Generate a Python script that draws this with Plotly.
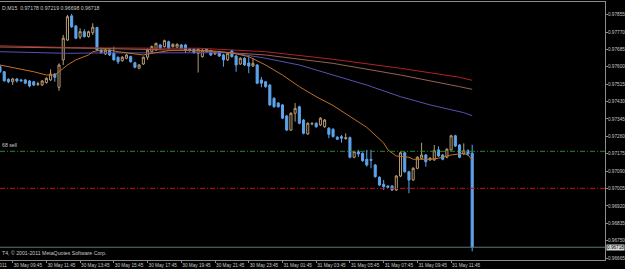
import plotly.graph_objects as go

# ---------------- data (USDCAD-like M15 bars) ----------------
bars = list(range(113))  # bar 0 = 30 May 09:00, 15-minute bars

open_ = [0.97601,0.97576,0.97539,0.97527,0.97541,0.97536,0.97536,0.97531,0.97527,0.97514,
         0.97511,0.97523,0.97536,0.97565,0.97500,0.97634,0.97731,0.97849,0.97800,0.97745,
         0.97772,0.97748,0.97767,0.97792,0.97682,0.97663,0.97682,0.97666,0.97647,0.97630,
         0.97642,0.97650,0.97620,0.97593,0.97614,0.97647,0.97674,0.97682,0.97707,0.97699,
         0.97723,0.97699,0.97696,0.97707,0.97707,0.97686,0.97686,0.97666,0.97650,0.97686,
         0.97679,0.97663,0.97674,0.97658,0.97634,0.97679,0.97653,0.97614,0.97642,0.97619,
         0.97604,0.97609,0.97536,0.97527,0.97511,0.97446,0.97423,0.97414,0.97360,0.97291,
         0.97373,0.97405,0.97340,0.97272,0.97321,0.97324,0.97316,0.97307,0.97300,0.97295,
         0.97256,0.97259,0.97249,0.97254,0.97158,0.97185,0.97177,0.97148,0.97147,0.97120,
         0.97060,0.97026,0.97017,0.97017,0.96998,0.97066,0.97180,0.97087,0.97047,0.97104,
         0.97153,0.97169,0.97145,0.97145,0.97194,0.97169,0.97158,0.97194,0.97263,0.97218,
         0.97174,0.97190,0.97178]
high = [0.97609,0.97580,0.97544,0.97546,0.97546,0.97541,0.97541,0.97536,0.97531,0.97527,
        0.97536,0.97549,0.97588,0.97569,0.97617,0.97756,0.97854,0.97859,0.97804,0.97789,
        0.97784,0.97777,0.97813,0.97796,0.97686,0.97689,0.97686,0.97699,0.97650,0.97653,
        0.97663,0.97655,0.97625,0.97614,0.97650,0.97691,0.97704,0.97718,0.97712,0.97733,
        0.97728,0.97715,0.97715,0.97712,0.97712,0.97691,0.97691,0.97691,0.97686,0.97691,
        0.97684,0.97674,0.97679,0.97663,0.97671,0.97682,0.97658,0.97647,0.97647,0.97650,
        0.97643,0.97614,0.97550,0.97531,0.97515,0.97451,0.97428,0.97418,0.97365,0.97378,
        0.97423,0.97410,0.97345,0.97329,0.97330,0.97329,0.97354,0.97345,0.97305,0.97300,
        0.97261,0.97267,0.97275,0.97259,0.97190,0.97194,0.97182,0.97194,0.97194,0.97125,
        0.97065,0.97047,0.97022,0.97022,0.97071,0.97185,0.97185,0.97092,0.97109,0.97163,
        0.97229,0.97174,0.97158,0.97218,0.97211,0.97174,0.97202,0.97268,0.97268,0.97223,
        0.97226,0.97197,0.97219]
low = [0.97569,0.97527,0.97520,0.97511,0.97523,0.97527,0.97515,0.97500,0.97506,0.97506,
       0.97506,0.97518,0.97531,0.97527,0.97483,0.97609,0.97726,0.97790,0.97735,0.97735,
       0.97743,0.97743,0.97756,0.97679,0.97664,0.97658,0.97653,0.97630,0.97614,0.97625,
       0.97637,0.97620,0.97593,0.97588,0.97609,0.97634,0.97669,0.97679,0.97686,0.97694,
       0.97686,0.97694,0.97691,0.97686,0.97667,0.97674,0.97664,0.97572,0.97645,0.97669,
       0.97653,0.97658,0.97648,0.97601,0.97629,0.97645,0.97576,0.97609,0.97604,0.97569,
       0.97599,0.97515,0.97500,0.97498,0.97409,0.97400,0.97400,0.97344,0.97286,0.97286,
       0.97332,0.97319,0.97270,0.97267,0.97314,0.97302,0.97311,0.97302,0.97251,0.97254,
       0.97242,0.97229,0.97244,0.97153,0.97153,0.97160,0.97136,0.97112,0.97104,0.97058,
       0.97017,0.96998,0.97006,0.96993,0.96993,0.97061,0.97082,0.96982,0.97042,0.97099,
       0.97148,0.97112,0.97140,0.97140,0.97159,0.97143,0.97153,0.97189,0.97208,0.97153,
       0.97169,0.97165,0.96698]
close = [0.97576,0.97532,0.97527,0.97541,0.97531,0.97532,0.97520,0.97506,0.97511,0.97517,
         0.97531,0.97544,0.97565,0.97549,0.97609,0.97740,0.97845,0.97796,0.97740,0.97772,
         0.97748,0.97772,0.97794,0.97682,0.97669,0.97682,0.97658,0.97634,0.97625,0.97647,
         0.97658,0.97625,0.97598,0.97609,0.97647,0.97682,0.97699,0.97715,0.97691,0.97728,
         0.97691,0.97710,0.97710,0.97691,0.97682,0.97679,0.97669,0.97686,0.97682,0.97674,
         0.97658,0.97669,0.97653,0.97634,0.97666,0.97650,0.97609,0.97642,0.97609,0.97604,
         0.97617,0.97520,0.97520,0.97503,0.97414,0.97405,0.97405,0.97349,0.97291,0.97373,
         0.97397,0.97324,0.97275,0.97324,0.97323,0.97307,0.97349,0.97340,0.97270,0.97259,
         0.97246,0.97251,0.97253,0.97158,0.97185,0.97174,0.97141,0.97120,0.97143,0.97063,
         0.97022,0.97014,0.97011,0.96998,0.97066,0.97180,0.97087,0.97047,0.97104,0.97158,
         0.97169,0.97136,0.97153,0.97190,0.97164,0.97148,0.97197,0.97263,0.97213,0.97158,
         0.97190,0.97174,0.96718]

# moving averages, read at selected bars
ma_red_x = [0, 17, 37, 47, 63, 79, 95, 109, 112]
ma_red_y = [0.97703, 0.97694, 0.97691, 0.97691, 0.97674, 0.97637, 0.97593, 0.97549, 0.97534]
ma_brown_x = [0, 24, 47, 63, 79, 95, 109, 112]
ma_brown_y = [0.97697, 0.97690, 0.97679, 0.97658, 0.97617, 0.97560, 0.97503, 0.97490]
ma_purple_x = [0, 8, 16, 24, 36, 47, 55, 63, 71, 79, 87, 95, 102, 110, 112]
ma_purple_y = [0.97674, 0.97669, 0.97666, 0.97668, 0.97668, 0.97670, 0.97669, 0.97642,
               0.97609, 0.97560, 0.97511, 0.97454, 0.97414, 0.97376, 0.97361]
ma_fast_x = [0, 4, 8, 11, 13, 14, 16, 18, 21, 22, 24, 26, 28, 32, 34, 36, 40, 43, 50, 55,
             59, 63, 67, 71, 75, 79, 83, 87, 91, 92, 94, 97, 98, 102, 104, 107, 110, 111, 112]
ma_fast_y = [0.97609, 0.97593, 0.97576, 0.97560, 0.97560, 0.97576, 0.97609, 0.97634, 0.97658,
             0.97674, 0.97682, 0.97682, 0.97674, 0.97663, 0.97658, 0.97666, 0.97679, 0.97682,
             0.97679, 0.97668, 0.97650, 0.97609, 0.97560, 0.97503, 0.97454, 0.97411, 0.97357,
             0.97304, 0.97228, 0.97194, 0.97164, 0.97158, 0.97148, 0.97148, 0.97153, 0.97169,
             0.97177, 0.97169, 0.97145]

sell_level = 0.97187
stop_level = 0.97006
bid_level = 0.96718

price_ticks = [0.97855, 0.97770, 0.97685, 0.97600, 0.97515, 0.97430, 0.97345, 0.97260,
               0.97175, 0.97090, 0.97005, 0.96920, 0.96835, 0.96750, 0.96665]
time_tick_bars = [3, 11, 19, 27, 35, 43, 51, 59, 67, 75, 83, 91, 99, 107]
time_tick_labels = ["30 May 09:45", "30 May 11:45", "30 May 13:45", "30 May 15:45",
                    "30 May 17:45", "30 May 19:45", "30 May 21:45", "30 May 23:45",
                    "31 May 01:45", "31 May 03:45", "31 May 05:45", "31 May 07:45",
                    "31 May 09:45", "31 May 11:45"]
header_text = "D,M15  0.97178 0.97219 0.96698 0.96718"
order_text = "68 sell"
copyright_text = "T4, \u00a9 2001-2011 MetaQuotes Software Corp."
first_date_text = "30 May 2011"

# ---------------- styling ----------------
BULL = "#b89c74"
BEAR = "#5ea4ea"
TXT = "#c8c8c8"
AX = "#8c8c8c"
FONT = "Liberation Sans"
FS = 5.2
TFS = 4.7

fig = go.Figure()
fig.add_trace(go.Candlestick(
    x=bars, open=open_, high=high, low=low, close=close,
    increasing=dict(line=dict(color=BULL, width=1), fillcolor="#000000"),
    decreasing=dict(line=dict(color=BEAR, width=1), fillcolor=BEAR),
    whiskerwidth=0, hoverinfo="skip", showlegend=False))

for xs, ys, col in [(ma_red_x, ma_red_y, "#b02228"),
                    (ma_brown_x, ma_brown_y, "#94644e"),
                    (ma_purple_x, ma_purple_y, "#5a50b4"),
                    (ma_fast_x, ma_fast_y, "#c07028")]:
    fig.add_trace(go.Scatter(x=xs, y=ys, mode="lines", line=dict(color=col, width=1),
                             hoverinfo="skip", showlegend=False))

shapes = [
    dict(type="line", xref="paper", yref="y", x0=0, x1=1, y0=sell_level, y1=sell_level,
         line=dict(color="#2a8a2a", width=1, dash="5px,2px,1px,2px")),
    dict(type="line", xref="paper", yref="y", x0=0, x1=1, y0=stop_level, y1=stop_level,
         line=dict(color="#c81010", width=1, dash="5px,2px,1px,2px")),
    dict(type="line", xref="paper", yref="y", x0=0, x1=1, y0=bid_level, y1=bid_level,
         line=dict(color="#5a7878", width=1)),
]

annotations = [
    dict(xref="paper", yref="paper", x=0, y=1, xanchor="left", yanchor="top", yshift=-1,
         text=header_text, showarrow=False, font=dict(family=FONT, size=FS, color=TXT)),
    dict(xref="paper", yref="y", x=0, y=sell_level, xanchor="left", yanchor="bottom", yshift=1,
         text=order_text, showarrow=False, font=dict(family=FONT, size=FS, color=TXT)),
    dict(xref="paper", yref="paper", x=0, y=0, xanchor="left", yanchor="bottom", yshift=2,
         text=copyright_text, showarrow=False, font=dict(family=FONT, size=FS, color=TXT)),
    dict(xref="paper", yref="paper", x=9 / 605, y=0, xanchor="right", yanchor="top", yshift=-1,
         text=first_date_text, showarrow=False, font=dict(family=FONT, size=TFS, color=TXT)),
    dict(xref="paper", yref="y", x=1, y=bid_level, xanchor="left", yanchor="middle", xshift=1,
         text="0.96718", showarrow=False, bgcolor="#d8d8d8", borderpad=0,
         font=dict(family=FONT, size=TFS, color="#000000")),
]

fig.update_layout(
    width=625, height=269,
    margin=dict(l=0, r=20, t=2, b=9, pad=0, autoexpand=False),
    paper_bgcolor="#000000", plot_bgcolor="#000000",
    showlegend=False,
    shapes=shapes, annotations=annotations,
    xaxis=dict(range=[0, 143.5], showgrid=False, zeroline=False, showline=True,
               linecolor=AX, linewidth=1, mirror=True, ticks="outside", ticklen=2,
               tickcolor=AX, tickvals=time_tick_bars, ticktext=time_tick_labels,
               ticklabelposition="outside right", tickangle=0, automargin=False,
               ticklabelstandoff=0,
               tickfont=dict(family=FONT, size=TFS, color=TXT),
               rangeslider=dict(visible=False), fixedrange=True),
    yaxis=dict(range=[0.966556, 0.97917], side="right", showgrid=False, zeroline=False,
               showline=True, linecolor=AX, linewidth=1, ticks="outside", ticklen=2,
               tickcolor=AX, tickvals=price_ticks, tickformat=".5f", automargin=False,
               ticklabelstandoff=-1,
               tickfont=dict(family=FONT, size=TFS, color=TXT), fixedrange=True),
)

fig.write_html("out.html")
